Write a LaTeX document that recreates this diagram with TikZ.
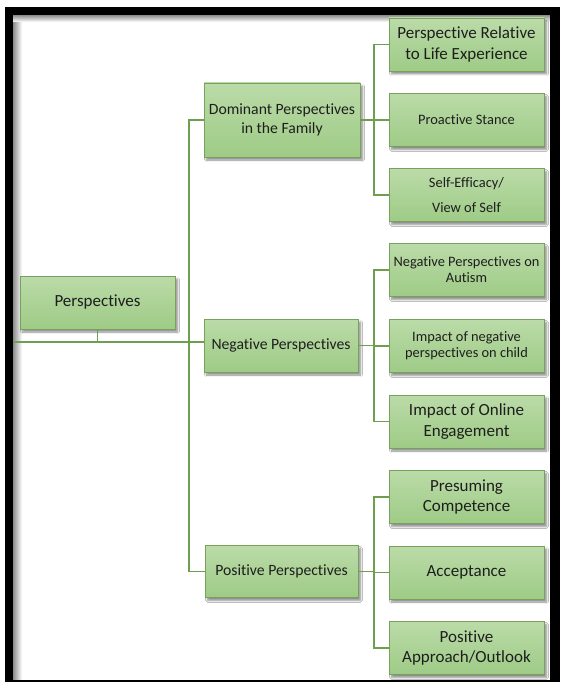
\documentclass[tikz,border=0pt]{standalone}
\usepackage{fontspec}
\setmainfont{Carlito}[RawFeature={-liga;-clig;-calt;-dlig}]
\usetikzlibrary{shadows.blur}

\definecolor{boxtop}{HTML}{BBDBA8}
\definecolor{boxbot}{HTML}{9ECB86}
\definecolor{boxline}{HTML}{76A25C}
\definecolor{wire}{HTML}{6E9F4F}
\definecolor{ink}{HTML}{1E1E1E}

\tikzset{
  topic/.style={draw=boxline, line width=0.9pt, top color=boxtop, bottom color=boxbot,
    text=ink, align=center, inner sep=2pt,
    blur shadow={shadow xshift=2.5pt, shadow yshift=-3pt, shadow blur steps=6, shadow opacity=45}},
  big/.style={topic, font=\fontsize{17}{20.5}\selectfont},
  mid/.style={topic, font=\fontsize{15.7}{19}\selectfont},
  small/.style={topic, font=\fontsize{14.4}{16}\selectfont},
  leaf/.style={minimum width=155pt, minimum height=53pt},
  wirestyle/.style={draw=wire, line width=1.5pt}
}

\begin{document}
\begin{tikzpicture}[x=1pt, y=-1pt]
\useasboundingbox (0,0) rectangle (560,682);
\fill[white] (0,0) rectangle (560,682);

% frame with soft inner shade
\shade[left color=black!45, right color=white] (13,15) rectangle (22,680);
\shade[top color=black!45, bottom color=white] (13,15) rectangle (550,22);
\fill[black] (5,7) rectangle (560,15);
\fill[black] (5,7) rectangle (13,682);
\fill[black] (550,7) rectangle (560,682);
\fill[black] (5,680) rectangle (560,682);

% main column
\node[big, minimum width=155pt, minimum height=53pt] (root) at (97.5,302.5) {Perspectives};
\node[mid, minimum width=156pt, minimum height=74pt] (dom) at (282,120) {Dominant Perspectives\\in the Family};
\node[mid, minimum width=154pt, minimum height=53pt] (neg) at (281,345.5) {Negative Perspectives};
\node[mid, minimum width=153pt, minimum height=52pt] (pos) at (281.5,571.5) {Positive Perspectives};

% leaves
\node[big, leaf] (d1) at (466.5,44.5) {Perspective Relative\\to Life Experience};
\node[small, leaf] (d2) at (466.5,120) {Proactive Stance};
\node[small, leaf, font=\fontsize{14.4}{25}\selectfont] (d3) at (466.5,195) {Self-Efficacy/\\View of Self};
\node[small, leaf] (n1) at (466.5,270) {Negative Perspectives on\\Autism};
\node[small, leaf] (n2) at (466.5,346) {Impact of negative\\perspectives on child};
\node[big, leaf] (n3) at (466.5,421.5) {Impact of Online\\Engagement};
\node[big, leaf] (p1) at (466.5,497) {Presuming\\Competence};
\node[big, leaf] (p2) at (466.5,572.5) {Acceptance};
\node[big, leaf] (p3) at (466.5,648) {Positive\\Approach/Outlook};

% junction points
\coordinate (edge) at (13,342);
\coordinate (j) at (189,342);
\coordinate (sx) at (374,0);

% root to trunk
\draw[wirestyle] (root.south) -- (root.south |- j);
\draw[wirestyle] (edge) -- (j) -- (j -| neg.west);
\draw[wirestyle] (dom.west) -- (dom.west -| j) -- (pos.west -| j) -- (pos.west);

% dominant branch
\draw[wirestyle] (dom.east) -- (dom.east -| sx);
\draw[wirestyle] (d1.west) -- (d1.west -| sx) -- (d3.west -| sx) -- (d3.west);
\draw[wirestyle] (d2.west -| sx) -- (d2.west);

% negative branch
\draw[wirestyle] (neg.east) -- (neg.east -| sx);
\draw[wirestyle] (n1.west) -- (n1.west -| sx) -- (n3.west -| sx) -- (n3.west);
\draw[wirestyle] (n2.west -| sx) -- (n2.west);

% positive branch
\draw[wirestyle] (pos.east) -- (pos.east -| sx);
\draw[wirestyle] (p1.west) -- (p1.west -| sx) -- (p3.west -| sx) -- (p3.west);
\draw[wirestyle] (p2.west -| sx) -- (p2.west);
\end{tikzpicture}
\end{document}
